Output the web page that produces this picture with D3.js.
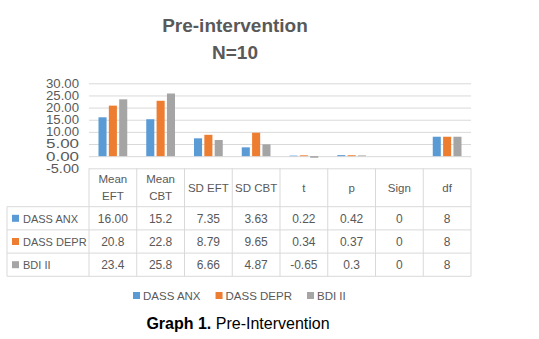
<!DOCTYPE html>
<html>
<head>
<meta charset="utf-8">
<script src="https://cdn.jsdelivr.net/npm/d3@7"></script>
<style>
  html, body { margin: 0; padding: 0; background: #fff; }
  svg { display: block; }
</style>
</head>
<body>
<svg id="chart"></svg>
<script>
(function () {
    const categories = ["Mean EFT", "Mean CBT", "SD EFT", "SD CBT", "t", "p", "Sign", "df"];
    const headerLines = [["Mean", "EFT"], ["Mean", "CBT"], ["SD EFT"], ["SD CBT"], ["t"], ["p"], ["Sign"], ["df"]];
    const seriesNames = ["DASS ANX", "DASS DEPR", "BDI II"];
    const dassAnx  = ["16.00", "15.2", "7.35", "3.63", "0.22", "0.42", "0", "8"];
    const dassDepr = ["20.8", "22.8", "8.79", "9.65", "0.34", "0.37", "0", "8"];
    const bdiII    = ["23.4", "25.8", "6.66", "4.87", "-0.65", "0.3", "0", "8"];
    const yTicks   = [-5, 0, 5, 10, 15, 20, 25, 30];

    const series = [
        { name: seriesNames[0], vals: dassAnx,  color: "#5B9BD5" },
        { name: seriesNames[1], vals: dassDepr, color: "#ED7D31" },
        { name: seriesNames[2], vals: bdiII,    color: "#A5A5A5" }
    ];

    const W = 539, H = 339;
    const left = 89, right = 471, top = 83.3, bottom = 168.3;
    const textCol = "#595959", lineCol = "#D9D9D9";
    const font = "'Liberation Sans', Arial, sans-serif";

    const svg = d3.select("#chart").attr("width", W).attr("height", H)
        .style("font-family", font);

    // Title
    const title = svg.append("text").attr("text-anchor", "middle")
        .attr("font-size", "19px").attr("font-weight", "bold").attr("fill", textCol);
    title.append("tspan").attr("x", 235).attr("y", 32).text("Pre-intervention");
    title.append("tspan").attr("x", 235).attr("y", 59).text("N=10");

    const x0 = d3.scaleBand().domain(categories).range([left, right]);
    const x1 = d3.scaleBand().domain(seriesNames)
        .range([9.5, x0.bandwidth() - 9.5]).paddingInner(0.22);
    const y = d3.scaleLinear().domain([-5, 30]).range([bottom, top]);

    const fmt = d3.formatLocale({ decimal: ".", thousands: ",", grouping: [3], currency: ["", ""], minus: "-" }).format(".2f");

    // Y axis with gridlines
    const yAxisG = svg.append("g").attr("transform", `translate(${left},0)`)
        .call(d3.axisLeft(y).tickValues(yTicks).tickFormat(fmt)
            .tickSizeInner(-(right - left)).tickSizeOuter(0).tickPadding(10));
    yAxisG.select(".domain").remove();
    yAxisG.selectAll("line").attr("stroke", lineCol).attr("stroke-width", 1);
    yAxisG.selectAll("text").attr("font-size", "12px").attr("fill", textCol)
        .attr("font-family", font).attr("textLength", 33).attr("lengthAdjust", "spacingAndGlyphs");

    // Bars
    const groups = svg.append("g").selectAll("g").data(series).join("g")
        .attr("fill", d => d.color);
    groups.selectAll("rect")
        .data(s => categories.map((c, i) => ({ c, s: s.name, v: +s.vals[i] })))
        .join("rect")
        .attr("x", d => x0(d.c) + x1(d.s))
        .attr("width", x1.bandwidth())
        .attr("y", d => y(Math.max(0, d.v)))
        .attr("height", d => Math.abs(y(d.v) - y(0)));

    // Data table
    const headerBottom = 206.7, rowH = 23.2, labelLeft = 7;
    const tbl = svg.append("g");
    const rowTops = series.map((s, i) => headerBottom + i * rowH);
    const tableBottom = headerBottom + series.length * rowH;

    // horizontal lines
    tbl.append("line").attr("x1", labelLeft).attr("x2", right)
        .attr("y1", headerBottom).attr("y2", headerBottom);
    rowTops.forEach(t => {
        tbl.append("line").attr("x1", labelLeft).attr("x2", right)
            .attr("y1", t + rowH).attr("y2", t + rowH);
    });
    // vertical lines
    tbl.append("line").attr("x1", labelLeft).attr("x2", labelLeft)
        .attr("y1", headerBottom).attr("y2", tableBottom);
    categories.concat(["_end"]).forEach((c, i) => {
        const xx = i < categories.length ? x0(c) : right;
        tbl.append("line").attr("x1", xx).attr("x2", xx)
            .attr("y1", bottom).attr("y2", tableBottom);
    });
    tbl.selectAll("line").attr("stroke", lineCol).attr("stroke-width", 1);

    // header text
    categories.forEach((c, i) => {
        const cx = x0(c) + x0.bandwidth() / 2;
        const lines = headerLines[i];
        const t = tbl.append("text").attr("text-anchor", "middle")
            .attr("font-size", "11.5px").attr("fill", textCol);
        if (lines.length === 2) {
            t.append("tspan").attr("x", cx).attr("y", 183).text(lines[0]);
            t.append("tspan").attr("x", cx).attr("y", 200).text(lines[1]);
        } else {
            t.append("tspan").attr("x", cx).attr("y", 192).text(lines[0]);
        }
    });

    // rows
    series.forEach((s, r) => {
        const cy = rowTops[r] + rowH / 2;
        tbl.append("rect").attr("x", 12).attr("y", cy - 3.5).attr("width", 7).attr("height", 7)
            .attr("fill", s.color);
        tbl.append("text").attr("x", 23).attr("y", cy + 4.3)
            .attr("font-size", "11px").attr("fill", textCol).text(s.name);
        s.vals.forEach((v, i) => {
            tbl.append("text").attr("x", x0(categories[i]) + x0.bandwidth() / 2).attr("y", cy + 4.3)
                .attr("text-anchor", "middle").attr("font-size", "12px").attr("fill", textCol)
                .text(v);
        });
    });

    // Legend
    const lg = svg.append("g");
    let lx = 133;
    series.forEach(s => {
        lg.append("rect").attr("x", lx).attr("y", 292).attr("width", 7).attr("height", 7)
            .attr("fill", s.color);
        const t = lg.append("text").attr("x", lx + 10).attr("y", 300)
            .attr("font-size", "11.5px").attr("fill", textCol).text(s.name);
        lx += 10 + t.node().getComputedTextLength() + 15;
    });

    // Caption
    const cap = svg.append("text").attr("x", 238).attr("y", 329).attr("text-anchor", "middle")
        .attr("font-size", "16px").attr("fill", "#000");
    cap.append("tspan").attr("font-weight", "bold").text("Graph 1.");
    cap.append("tspan").text(" Pre-Intervention");
})();
</script>
</body>
</html>
